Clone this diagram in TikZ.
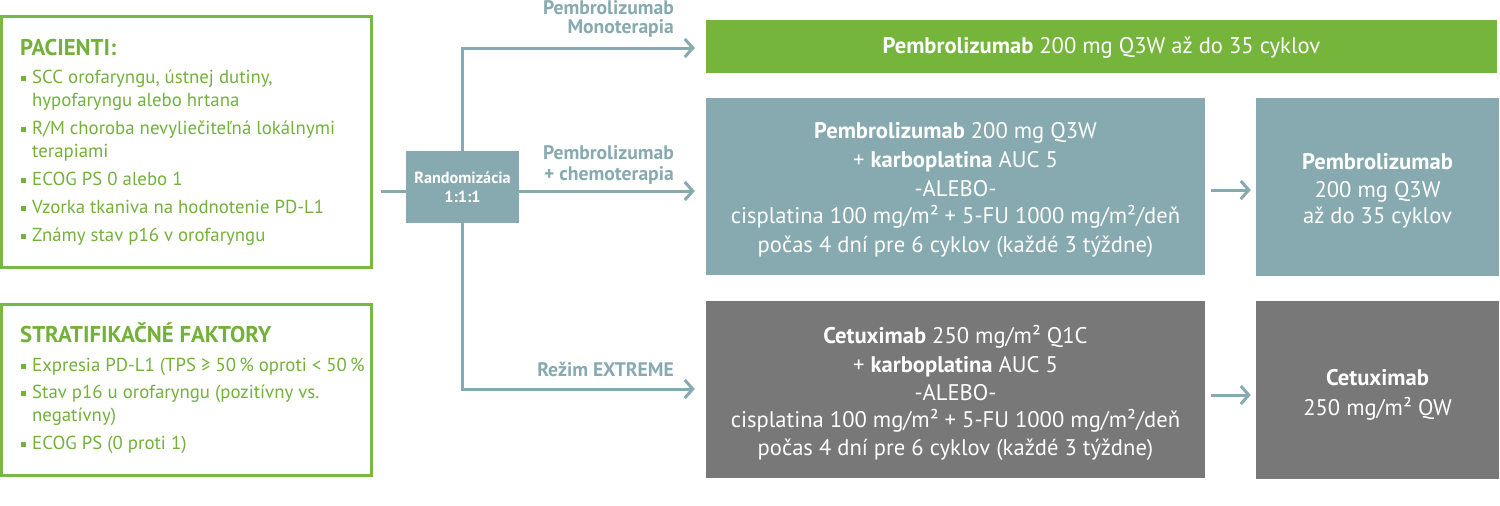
\documentclass[tikz,border=0pt]{standalone}
\usepackage{fontspec}
\setmainfont{PT Sans}
\usetikzlibrary{arrows.meta}
\definecolor{gfill}{HTML}{76B53B}
\definecolor{gline}{HTML}{7AB648}
\definecolor{gtext}{HTML}{72B13A}
\definecolor{cteal}{HTML}{86AAB0}
\definecolor{dgray}{HTML}{787878}
\newcommand\fsA{\fontsize{22.6}{27}\selectfont}
\newcommand\fsB{\fontsize{18.8}{23}\selectfont}
\newcommand\fsH{\fontsize{22.8}{27}\selectfont\bfseries}
\newcommand\fsL{\fontsize{19.6}{23}\selectfont\bfseries}
\newcommand\fsR{\fontsize{16.2}{19}\selectfont\bfseries}
\tikzset{
  gbox/.style={draw=gline, line width=3pt, inner sep=0pt},
  fbox/.style={inner sep=0pt, draw=none},
  ln/.style={anchor=base, inner sep=0pt, text=white, font=\fsA},
  lt/.style={anchor=base west, inner sep=0pt, text=gtext, font=\fsB},
  hd/.style={anchor=base west, inner sep=0pt, text=gtext, font=\fsH},
  lab/.style={anchor=base east, inner sep=0pt, text=cteal, font=\fsL},
  conn/.style={draw=cteal, line width=3pt},
  arr/.style={conn, -{Straight Barb[length=8pt,width=18pt]}},
}
\begin{document}
\begin{tikzpicture}[x=1pt,y=-1pt]
\useasboundingbox (0,0) rectangle (1500,506);
% left boxes
\node[gbox, minimum width=369.5pt, minimum height=251pt] (pac) at (186.25,142) {};
\node[gbox, minimum width=369.5pt, minimum height=171.5pt] (str) at (186.25,389.75) {};
% PACIENTI text
\node[hd] (p0) at (20,55) {PACIENTI:};
\node[lt] (p1) at (32,83) {SCC orofaryngu, ústnej dutiny,};
\node[lt] (p1b) at (32,106) {hypofaryngu alebo hrtana};
\node[lt] (p2) at (32,134) {R/M choroba nevyliečiteľná lokálnymi};
\node[lt] (p2b) at (32,157) {terapiami};
\node[lt] (p3) at (32,185) {ECOG PS 0 alebo 1};
\node[lt] (p4) at (32,213) {Vzorka tkaniva na hodnotenie PD-L1};
\node[lt] (p5) at (32,241) {Známy stav p16 v orofaryngu};
\foreach \y in {83,134,185,213,241}{\fill[gtext] (21,\y-7) rectangle (25.5,\y-2.5);}
% STRAT text
\node[hd] (s0) at (20,342) {STRATIFIKAČNÉ FAKTORY};
\node[lt] (s1) at (32,371) {Expresia PD-L1 (TPS ≥ 50\,\% oproti < 50\,\%};
\node[lt] (s2) at (32,398) {Stav p16 u orofaryngu (pozitívny vs.};
\node[lt] (s2b) at (32,421) {negatívny)};
\node[lt] (s3) at (32,449) {ECOG PS (0 proti 1)};
\foreach \y in {371,398,449}{\fill[gtext] (21,\y-7) rectangle (25.5,\y-2.5);}
% randomization
\node[fbox, fill=cteal, minimum width=113pt, minimum height=72pt] (rand) at (462.5,187) {};
\node[anchor=base, inner sep=0pt, text=white, font=\fsR] (r1) at (462.5,183) {Randomizácia};
\node[anchor=base, inner sep=0pt, text=white, font=\fsR] (r2) at (462.5,202) {1:1:1};
% treatment boxes
\node[fbox, fill=gfill, minimum width=791pt, minimum height=53pt] (mono) at (1101.5,46.5) {};
\node[fbox, fill=cteal, minimum width=499pt, minimum height=177pt] (chemo) at (955.5,186.5) {};
\node[fbox, fill=dgray, minimum width=499pt, minimum height=177pt] (ext) at (955.5,389.5) {};
\node[fbox, fill=cteal, minimum width=243pt, minimum height=178pt] (pm) at (1377.5,187) {};
\node[fbox, fill=dgray, minimum width=243pt, minimum height=178pt] (cm) at (1377.5,390) {};
% texts
\node[ln] (m1) at (1101.5,53) {\textbf{Pembrolizumab} 200 mg Q3W až do 35 cyklov};
\node[ln] (c1) at (955.5,138) {\textbf{Pembrolizumab} 200 mg Q3W};
\node[ln] (c2) at (955.5,167) {+ \textbf{karboplatina} AUC 5};
\node[ln] (c3) at (955.5,196) {-ALEBO-};
\node[ln] (c4) at (955.5,223) {cisplatina 100 mg/m² + 5-FU 1000 mg/m²/deň};
\node[ln] (c5) at (955.5,252) {počas 4 dní pre 6 cyklov (každé 3 týždne)};
\node[ln] (e1) at (955.5,343) {\textbf{Cetuximab} 250 mg/m² Q1C};
\node[ln] (e2) at (955.5,372) {+ \textbf{karboplatina} AUC 5};
\node[ln] (e3) at (955.5,400) {-ALEBO-};
\node[ln] (e4) at (955.5,427) {cisplatina 100 mg/m² + 5-FU 1000 mg/m²/deň};
\node[ln] (e5) at (955.5,455) {počas 4 dní pre 6 cyklov (každé 3 týždne)};
\node[ln] (q1) at (1377.5,169) {\textbf{Pembrolizumab}};
\node[ln] (q2) at (1377.5,197) {200 mg Q3W};
\node[ln] (q3) at (1377.5,223) {až do 35 cyklov};
\node[ln] (w1) at (1377.5,385) {\textbf{Cetuximab}};
\node[ln] (w2) at (1377.5,415) {250 mg/m² QW};
% labels
\node[lab] (l1) at (674,14) {Pembrolizumab};
\node[lab] (l1b) at (674,34) {Monoterapia};
\node[lab] (l2) at (674,159) {Pembrolizumab};
\node[lab] (l2b) at (674,180) {+ chemoterapia};
\node[lab] (l3) at (674,376) {Režim EXTREME};
% connectors
\coordinate (mid) at (0,191);
\coordinate (top) at (0,48);
\coordinate (bot) at (0,389);
\coordinate (a1) at (0,190);
\coordinate (a2) at (0,395);
\draw[conn] ([xshift=8pt]pac.east |- mid) -- (rand.west |- mid);
\draw[arr] (rand.east |- mid) -- ([xshift=-11pt]chemo.west |- mid);
\draw[arr] (rand.north) -- (rand.north |- top) -- ([xshift=-11pt]mono.west |- top);
\draw[arr] (rand.south) -- (rand.south |- bot) -- ([xshift=-11pt]ext.west |- bot);
\draw[arr] ([xshift=6pt]chemo.east |- a1) -- ([xshift=-5pt]pm.west |- a1);
\draw[arr] ([xshift=6pt]ext.east |- a2) -- ([xshift=-5pt]cm.west |- a2);
\end{tikzpicture}
\end{document}
